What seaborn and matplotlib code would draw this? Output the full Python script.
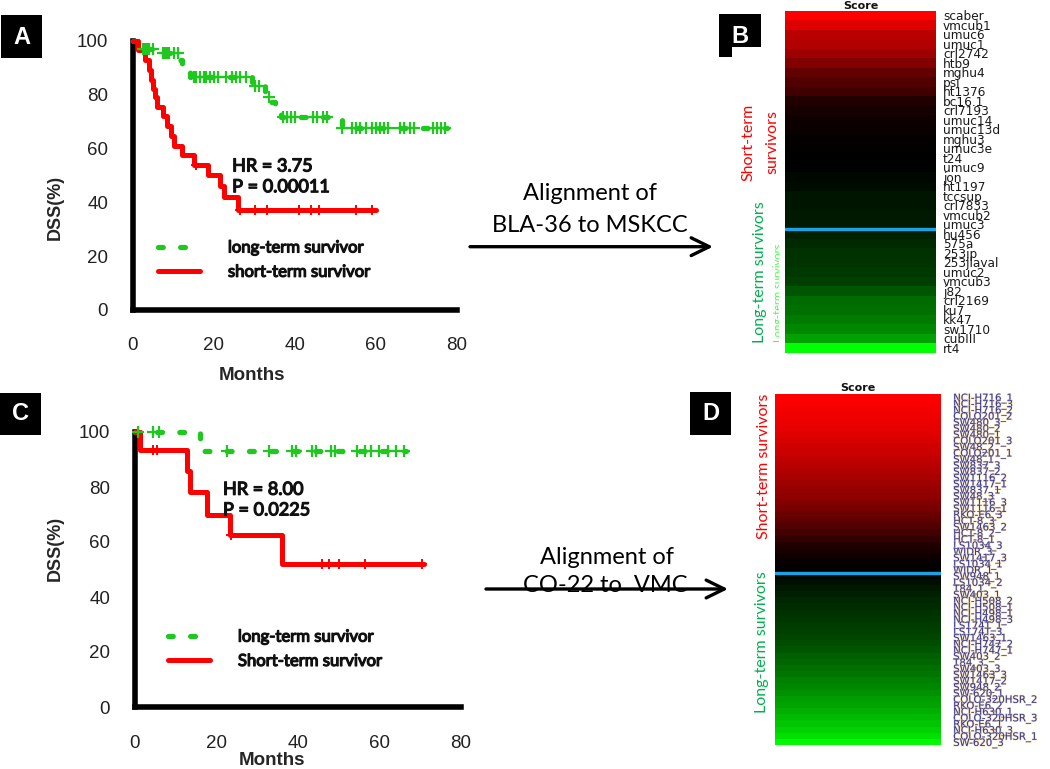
import numpy as np
import pandas as pd
import matplotlib
matplotlib.use("Agg")
import matplotlib.pyplot as plt
import seaborn as sns
from matplotlib.colors import LinearSegmentedColormap
from matplotlib.patches import Rectangle, FancyArrowPatch
import matplotlib.patheffects as pe

# ------------------------------------------------------------------ data
# Panel A (BLA-36) Kaplan-Meier steps: months / DSS(%)
A_short_t = [0, 1.2, 3.0, 4.0, 4.5, 5.0, 5.5, 6.0, 7.5, 8.5, 9.5, 10.0, 12.0, 15.0, 18.5, 21.5, 22.5, 26.0, 60.0]
A_short_s = [100, 96.5, 93, 89, 85.5, 82, 79, 75.5, 72, 68.5, 64.5, 61, 57.5, 54, 50, 46, 42, 37, 37]
A_short_cens = [15.5, 26.5, 30.0, 33.0, 41.0, 44.0, 46.0, 55.0, 59.0]
A_long_t = [0, 1.5, 7.0, 11.5, 12.0, 14.0, 29.5, 32.5, 34.0, 35.0, 36.5, 51.5, 77.5]
A_long_s = [100, 97, 95.3, 92.8, 91, 86.4, 83.2, 79.2, 77.3, 74.3, 71.5, 67.4, 67.4]
A_long_cens = [2.5, 3.0, 3.5, 4.0, 5.0, 7.5, 8.0, 8.5, 9.0, 10.0, 11.0, 15.0, 15.5, 16.5, 17.5,
               18.0, 19.0, 20.0, 21.0, 23.0, 24.5, 25.5, 26.5, 28.0, 30.0, 31.0, 33.5, 37.0,
               38.0, 39.0, 40.0, 44.5, 45.5, 47.0, 48.0, 51.5, 54.0, 55.0, 56.0, 57.5, 59.0,
               60.0, 61.0, 62.0, 63.0, 66.0, 67.0, 68.5, 69.5, 74.0, 75.0, 76.0, 77.0]
A_labels = ["long-term survivor", "short-term survivor"]
A_stats = ["HR = 3.75", "P = 0.00011"]

# Panel C (CO-22)
C_short_t = [0, 1.2, 12.7, 13.6, 17.6, 23.3, 36.0, 71.0]
C_short_s = [100, 93.6, 85.8, 78.2, 69.8, 62.5, 52.0, 52.0]
C_short_cens = [4.5, 5.3, 23.5, 46.0, 47.5, 50.0, 56.5, 70.5]
C_long_t = [0, 16.0, 66.5]
C_long_s = [100, 93, 93]
C_long_cens = [0.8, 4.5, 6.0, 22.5, 33.0, 38.5, 39.5, 43.5, 44.5, 48.0, 49.0, 54.5, 56.5,
               58.0, 60.0, 62.0, 64.0, 66.0]
C_labels = ["long-term survivor", "Short-term survivor"]
C_stats = ["HR = 8.00", "P = 0.0225"]

x_ticks = [0, 20, 40, 60, 80]
y_ticks = [0, 20, 40, 60, 80, 100]

# Panel B heatmap (MSKCC cell lines)
B_short_lines = ["scaber", "vmcub1", "umuc6", "umuc1", "crl2742", "htb9", "mghu4", "psi", "ht1376",
                 "bc16.1", "crl7193", "umuc14", "umuc13d", "mghu3", "umuc3e", "t24", "umuc9", "jon",
                 "ht1197", "tccsup", "crl7833", "vmcub2", "umuc3"]
B_short_score = [1.00, 0.87, 0.73, 0.70, 0.61, 0.51, 0.39, 0.32, 0.25, 0.13, 0.09, 0.06, 0.04,
                 0.02, 0.01, 0.0, 0.0, -0.03, -0.04, -0.08, -0.08, -0.10, -0.10]
B_long_lines = ["hu456", "575a", "253jp", "253jlaval", "umuc2", "vmcub3", "j82", "crl2169", "ku7",
                "kk47", "sw1710", "cubIII", "rt4"]
B_long_score = [-0.13, -0.16, -0.19, -0.20, -0.22, -0.25, -0.33, -0.42, -0.44, -0.48, -0.53,
                -0.63, -1.00]

# Panel D heatmap (VMC cell lines)
D_short_lines = ["NCI-H716_1", "NCI-H716_3", "NCI-H716_2", "COLO201_2", "SW480_3", "SW480_2",
                 "SW480_1", "COLO201_3", "SW48_2", "COLO201_1", "SW48_1", "SW837_3", "SW837_2",
                 "SW1116_2", "SW1417_1", "SW837_1", "SW48_3", "SW1116_3", "SW1116_1", "RKO-E6_3",
                 "HCT-8_3", "SW1463_2", "HCT-8_2", "HCT-8_1", "LS1034_3", "WIDR_3", "SW1417_3",
                 "LS1034_1", "WIDR_1"]
D_short_score = [1.00, 0.98, 0.96, 0.94, 0.92, 0.90, 0.88, 0.85, 0.82, 0.79, 0.76, 0.72, 0.69,
                 0.66, 0.62, 0.59, 0.56, 0.51, 0.47, 0.42, 0.37, 0.31, 0.26, 0.20, 0.14, 0.10,
                 0.06, 0.03, 0.01]
D_long_lines = ["SW948_1", "LS1034_2", "T84_1", "SW403_1", "NCI-H508_2", "NCI-H508_1",
                "NCI-H498_1", "NCI-H498_3", "LS174T_1", "LS174T_3", "SW1463_1", "NCI-H747_2",
                "NCI-H747_1", "SW403_2", "T84_3", "SW403_3", "SW1463_3", "SW1417_2", "SW948_2",
                "SW-620_1", "COLO-320HSR_2", "RKO-E6_2", "NCI-H630_1", "COLO-320HSR_3",
                "RKO-E6_1", "NCI-H630_3", "COLO-320HSR_1", "SW-620_3"]
D_long_score = [-0.03, -0.06, -0.09, -0.12, -0.15, -0.17, -0.19, -0.21, -0.23, -0.25, -0.27,
                -0.30, -0.33, -0.37, -0.40, -0.43, -0.46, -0.50, -0.53, -0.57, -0.61, -0.64,
                -0.68, -0.72, -0.77, -0.82, -0.88, -0.97]

# ------------------------------------------------------------------ style
sns.set_style("white")
plt.rcParams["font.family"] = ["Liberation Sans", "DejaVu Sans"]

GREEN = "#1ec81e"
RED = "#ff0000"
BLUE = "#1aa3e6"
W, H = 1050, 769

fig = plt.figure(figsize=(10.5, 7.69), dpi=100)
fig.patch.set_facecolor("white")


def add_ax(x0, y0, x1, y1):
    return fig.add_axes([x0 / W, 1 - y1 / H, (x1 - x0) / W, (y1 - y0) / H])


def fpos(x, y):
    return x / W, 1 - y / H


def fake_bold(color):
    return [pe.withStroke(linewidth=0.9, foreground=color)]


def step_val(ts, ss, c):
    idx = np.searchsorted(np.asarray(ts), np.asarray(c), side="right") - 1
    return np.asarray(ss)[idx]


def km_panel(ax, lt, ls_, lc, st, ss, sc, labels, stats, leg_xy, stat_xy,
             xlab_xy, ylab_xy, xpad):
    sns.lineplot(x=lt, y=ls_, drawstyle="steps-post", estimator=None, sort=False,
                 color=GREEN, lw=3.8, linestyle=(0, (0.9, 3.3)), dash_capstyle="round",
                 ax=ax, clip_on=False, zorder=4)
    sns.lineplot(x=st, y=ss, drawstyle="steps-post", estimator=None, sort=False,
                 color=RED, lw=3.6, ax=ax, clip_on=False, zorder=5)
    h_long, h_short = ax.lines[0], ax.lines[1]
    sns.scatterplot(x=lc, y=step_val(lt, ls_, lc), marker="+", s=65, color=GREEN,
                    linewidth=1.6, ax=ax, clip_on=False, zorder=6)
    sns.scatterplot(x=sc, y=step_val(st, ss, sc), marker="+", s=45, color=RED,
                    linewidth=1.4, ax=ax, clip_on=False, zorder=6)
    ax.set_xlim(0, 80)
    ax.set_ylim(0, 100)
    ax.set_xticks(x_ticks)
    ax.set_yticks(y_ticks)
    for s in ["top", "right"]:
        ax.spines[s].set_visible(False)
    for s in ["left", "bottom"]:
        ax.spines[s].set_linewidth(4)
        ax.spines[s].set_color("black")
    ax.tick_params(axis="both", direction="out", length=9, width=4, color="black",
                   labelsize=13.5, labelcolor="#222222")
    ax.tick_params(axis="x", pad=xpad)
    ax.tick_params(axis="y", pad=9)
    ax.set_xlabel("Months", fontsize=13.5, fontweight="bold", va="center")
    ax.xaxis.set_label_coords(*xlab_xy)
    ax.set_ylabel("DSS(%)", fontsize=13, fontweight="bold", va="center", ha="center")
    ax.yaxis.set_label_coords(*ylab_xy)
    leg = ax.legend([h_long, h_short], labels, loc="upper left", bbox_to_anchor=leg_xy,
                    frameon=False, handlelength=2.5, handletextpad=1.7, labelspacing=0.5,
                    borderpad=0, borderaxespad=0,
                    prop={"family": "Lato", "size": 12})
    for t in leg.get_texts():
        t.set_color("#111111")
        t.set_path_effects(fake_bold("#111111"))
    for i, t in enumerate(stats):
        ax.text(stat_xy[0], stat_xy[1][i], t, transform=ax.transAxes, fontsize=13,
                family="Lato", ha="left", va="center", color="#111111", zorder=7,
                path_effects=fake_bold("#111111"))


# ---- Panel A
axA = add_ax(133, 40.7, 457, 310)
km_panel(axA, A_long_t, A_long_s, A_long_cens, A_short_t, A_short_s, A_short_cens,
         A_labels, A_stats, leg_xy=(0.077, 0.262), stat_xy=(0.306, [0.533, 0.456]),
         xlab_xy=(0.367, -0.245), ylab_xy=(-0.241, 0.382), xpad=10.5)

# ---- Panel C
axC = add_ax(135, 432, 461, 707)
km_panel(axC, C_long_t, C_long_s, C_long_cens, C_short_t, C_short_s, C_short_cens,
         C_labels, C_stats, leg_xy=(0.101, 0.285), stat_xy=(0.27, [0.79, 0.715]),
         xlab_xy=(0.42, -0.193), ylab_xy=(-0.244, 0.575), xpad=11)

# ---- heatmaps
cmap = LinearSegmentedColormap.from_list("gkr", ["#00ff00", "#000000", "#ff0000"])


def heat_panel(ax, s_lines, s_score, l_lines, l_score, fsize, pad, color, title_pad, fx=None):
    df = pd.DataFrame({"Score": s_score + l_score}, index=s_lines + l_lines)
    sns.heatmap(df, ax=ax, cmap=cmap, vmin=-1, vmax=1, cbar=False, xticklabels=False,
                yticklabels=True)
    ax.set_ylabel("")
    ax.set_xlabel("")
    ax.yaxis.tick_right()
    ax.tick_params(axis="y", length=0, pad=pad)
    for lab in ax.get_yticklabels():
        lab.set_rotation(0)
        lab.set_ha("left")
        lab.set_fontsize(fsize)
        lab.set_family("DejaVu Sans")
        lab.set_color(color)
        if fx is not None:
            lab.set_path_effects(fx)
    ax.axhline(len(s_lines), color=BLUE, lw=2.4)
    ax.set_title("Score", fontsize=8, fontweight="bold", family="DejaVu Sans", pad=title_pad,
                 color="#111111")


axB = add_ax(785, 10.7, 936, 352.7)
heat_panel(axB, B_short_lines, B_short_score, B_long_lines, B_long_score, 8.7, 5, "#1a1a1a", 0.5)

axD = add_ax(775, 394, 940.7, 745)
heat_panel(axD, D_short_lines, D_short_score, D_long_lines, D_long_score, 7.3, 9, "#3a3a92",
           2.0, fx=[pe.withStroke(linewidth=1.0, foreground="#ecd39a", alpha=0.55)])

# ---- group labels beside heatmaps
gtxt = dict(rotation=90, fontsize=11.5, family="Lato", ha="center", va="center")
fig.text(*fpos(748, 142), "Short-term", color="#ff0000", **gtxt)
fig.text(*fpos(772, 142), "survivors", color="#ff0000", **gtxt)
fig.text(*fpos(760, 272), "Long-term survivors", color="#00b050", **gtxt)
ghost = fig.text(*fpos(779, 293), "Long-term survivors", color="#44ff44", rotation=90,
                 fontsize=8, family="Lato", ha="center", va="center")
clip = Rectangle(fpos(770, 350), 8.5 / W, 115 / H, transform=fig.transFigure)
ghost.set_clip_path(clip)
fig.text(*fpos(764, 466), "Short-term survivors", color="#ff0000", **gtxt)
fig.text(*fpos(762, 642), "Long-term survivors", color="#00b050", **gtxt)

# ---- arrows and captions
for (x0, x1, y) in [(470, 713, 246.7), (486, 728, 589)]:
    fig.add_artist(FancyArrowPatch(fpos(x0, y), fpos(x1, y), transform=fig.transFigure,
                                   arrowstyle="->,head_length=0.65,head_width=0.32",
                                   mutation_scale=20, lw=2.4, color="black",
                                   shrinkA=0, shrinkB=0))
ctxt = dict(fontsize=17, family="Lato", ha="center", va="center", color="black")
fig.text(*fpos(590, 193), "Alignment of", **ctxt)
fig.text(*fpos(590, 225), "BLA-36 to MSKCC", **ctxt)
fig.text(*fpos(607, 557), "Alignment of", **ctxt)
fig.text(*fpos(605, 585), "CO-22 to  VMC", **ctxt)

# ---- panel letters
def letter(x0, y0, x1, y1, ch, cx, cy):
    fig.add_artist(Rectangle(fpos(x0, y1), (x1 - x0) / W, (y1 - y0) / H,
                             transform=fig.transFigure, color="black", lw=0))
    fig.text(*fpos(cx, cy), ch, color="white", fontsize=17, fontweight="bold",
             ha="center", va="center")


letter(1, 15, 42, 58, "A", 21.5, 37.5)
letter(0, 393, 41, 435, "C", 20.5, 414)
letter(690, 392, 731, 435, "D", 710.5, 413.5)
# B box with a notch at lower right
fig.add_artist(Rectangle(fpos(719, 57), 13 / W, 43 / H, transform=fig.transFigure,
                         color="black", lw=0))
letter(719, 14, 761, 47, "B", 740, 36.5)

fig.savefig("out.png", dpi=100, facecolor="white")
